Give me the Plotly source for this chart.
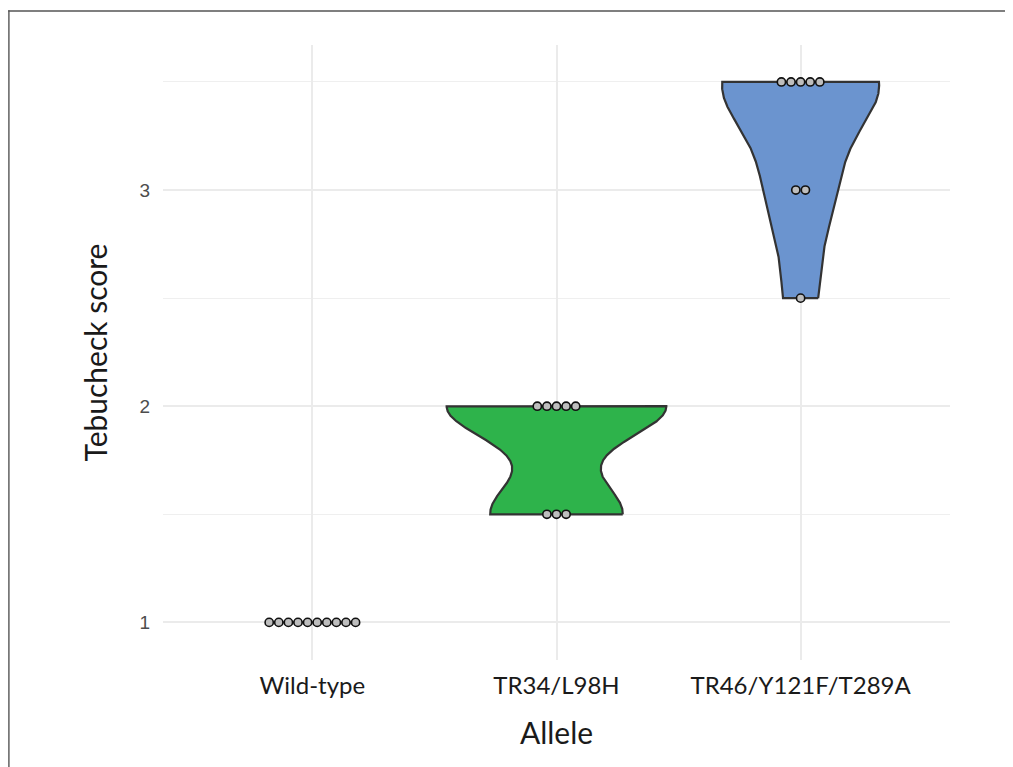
import numpy as np
import plotly.graph_objects as go

# ---- data ----
categories = ["Wild-type", "TR34/L98H", "TR46/Y121F/T289A"]
wild_type_scores = [1, 1, 1, 1, 1, 1, 1, 1, 1, 1]
tr34_scores = [2, 2, 2, 2, 2, 1.5, 1.5, 1.5]
tr46_scores = [3.5, 3.5, 3.5, 3.5, 3.5, 3, 3, 2.5]
y_ticks = [1, 2, 3]

groups = [wild_type_scores, tr34_scores, tr46_scores]
fill_colors = ["#BEBEBE", "#2EB34B", "#6B94CF"]

# ---- layout geometry (page body has an 8px margin) ----
OFF = 8
W, H = 1013 - OFF, 767 - OFF
ML, MT = 163 - OFF, 45 - OFF
plot_w, plot_h = 787, 615
MR = W - ML - plot_w
MB = H - MT - plot_h
X_RANGE = [-0.612, 2.612]
Y_RANGE = [0.826, 3.671]
px_per_x = plot_w / (X_RANGE[1] - X_RANGE[0])
DOT_PX = 9.6
dot_w = DOT_PX / px_per_x


def bw_nrd0(x):
    x = np.asarray(x, dtype=float)
    hi = np.std(x, ddof=1)
    iqr = np.quantile(x, 0.75) - np.quantile(x, 0.25)
    lo = min(hi, iqr / 1.34)
    if not lo:
        lo = hi or abs(x[0]) or 1.0
    return 0.9 * lo * len(x) ** -0.2


def kde(x, grid):
    x = np.asarray(x, dtype=float)
    bw = bw_nrd0(x)
    z = (grid[:, None] - x[None, :]) / bw
    return np.exp(-0.5 * z ** 2).sum(axis=1) / (len(x) * bw * np.sqrt(2 * np.pi))


dens = []
for g in groups:
    grid = np.linspace(min(g), max(g), 512)
    dens.append((grid, kde(g, grid)))
max_d = max(d.max() for _, d in dens)

fig = go.Figure()

for i, (grid, d) in enumerate(dens):
    half = d / max_d * 0.45
    xs = np.concatenate([i + half, (i - half)[::-1], [i + half[0]]])
    ys = np.concatenate([grid, grid[::-1], [grid[0]]])
    fig.add_trace(go.Scatter(
        x=xs, y=ys, mode="lines", fill="toself",
        fillcolor=fill_colors[i],
        line=dict(color="#333333", width=2.2),
        hoverinfo="skip", showlegend=False,
    ))

for i, g in enumerate(groups):
    vals, counts = np.unique(np.asarray(g, dtype=float), return_counts=True)
    dx, dy = [], []
    for v, n in zip(vals, counts):
        for k in range(n):
            dx.append(i + (k - (n - 1) / 2) * dot_w)
            dy.append(v)
    fig.add_trace(go.Scatter(
        x=dx, y=dy, mode="markers",
        marker=dict(size=8.2, color="#BEBEBE", line=dict(color="#111111", width=1.6)),
        hoverinfo="skip", showlegend=False,
    ))


# outer frame (window pixel coords -> paper coords)
def px_to_paper_x(px):
    return (px - OFF - ML) / plot_w


def px_to_paper_y(py):
    return (MT + plot_h - (py - OFF)) / plot_h


FRAME = "#555555"
fig.add_shape(type="rect", xref="paper", yref="paper",
              x0=px_to_paper_x(8.2), x1=px_to_paper_x(1013),
              y0=px_to_paper_y(11.7), y1=px_to_paper_y(10.3),
              fillcolor=FRAME, line=dict(width=0), layer="above")
fig.add_shape(type="rect", xref="paper", yref="paper",
              x0=px_to_paper_x(8.2), x1=px_to_paper_x(9.6),
              y0=px_to_paper_y(767), y1=px_to_paper_y(10.3),
              fillcolor=FRAME, line=dict(width=0), layer="above")

fig.update_layout(
    width=W, height=H,
    margin=dict(l=ML, r=MR, t=MT, b=MB),
    plot_bgcolor="white", paper_bgcolor="white",
    showlegend=False,
    xaxis=dict(
        range=X_RANGE, tickmode="array", tickvals=[0, 1, 2], ticktext=categories,
        showgrid=True, gridcolor="#EBEBEB", gridwidth=1.5, zeroline=False,
        showline=False, ticks="",
        tickfont=dict(family="Lato", size=24, color="#1a1a1a"),
        ticklabelstandoff=9,
        title=dict(text="Allele", font=dict(family="Lato", size=30, color="#1a1a1a"), standoff=24),
    ),
    yaxis=dict(
        range=Y_RANGE, tickmode="array", tickvals=y_ticks,
        showgrid=True, gridcolor="#EBEBEB", gridwidth=1.5, zeroline=False,
        showline=False, ticks="",
        minor=dict(tickvals=[1.5, 2.5, 3.5], showgrid=True, gridcolor="#EFEFEF", gridwidth=1),
        tickfont=dict(family="Liberation Sans", size=19, color="#4D4D4D"),
        ticklabelstandoff=12,
        title=dict(text="Tebucheck score", font=dict(family="Lato", size=30, color="#1a1a1a"), standoff=22),
    ),
)

fig.write_html("out.html")
